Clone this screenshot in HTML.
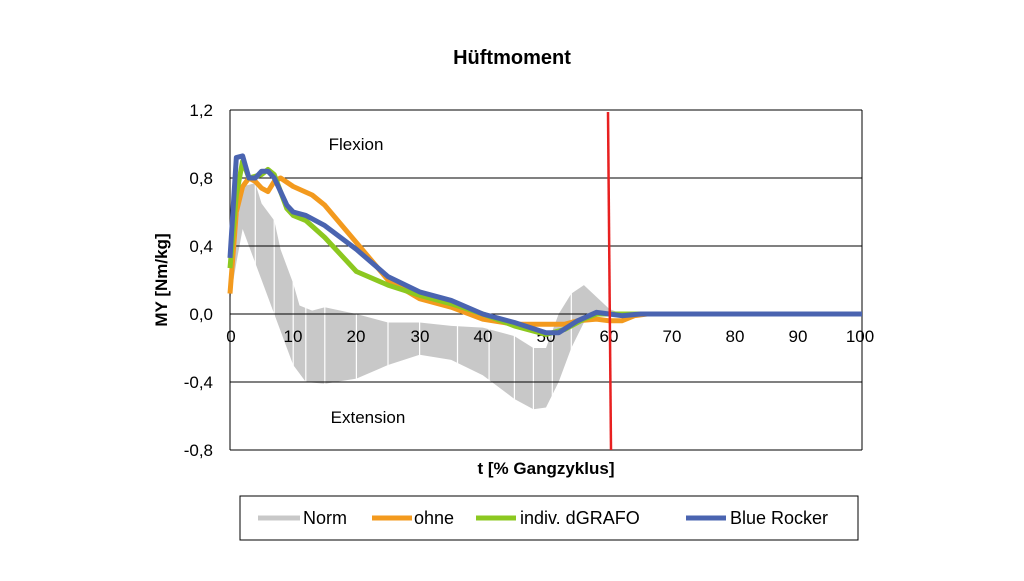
<!DOCTYPE html>
<html><head><meta charset="utf-8"><style>
body{margin:0;background:#fff;}
svg text{font-family:"Liberation Sans",Arial,sans-serif;fill:#000;}
</style></head><body>
<svg width="1024" height="576" viewBox="0 0 1024 576" xmlns="http://www.w3.org/2000/svg">
<rect width="1024" height="576" fill="#fff"/>
<text x="512" y="64" font-size="20" font-weight="bold" text-anchor="middle">Hüftmoment</text>
<g transform="translate(230,314) scale(6.32,-170)">
<polygon fill="#c8c8c8" points="0,0.1 1,0.5 2,0.75 4,0.77 5,0.65 7,0.55 8,0.38 10,0.18 11,0.05 13,0.02 15,0.04 20,0 25,-0.05 30,-0.05 35,-0.07 40,-0.08 45,-0.13 48,-0.2 50,-0.2 52,0 54,0.12 56,0.17 58,0.1 60,0.03 62,0 62,0 60,0 58,0 56,-0.05 54,-0.2 52,-0.4 50,-0.55 48,-0.56 45,-0.5 40,-0.36 35,-0.27 30,-0.24 25,-0.3 20,-0.38 15,-0.41 12,-0.4 10,-0.3 8,-0.1 6,0.1 4,0.3 2,0.5 1,0.3 0,0.08"/>
</g>
<g stroke="#fff" stroke-width="1.2">
<line x1="255.3" y1="150" x2="255.3" y2="420"/><line x1="274.2" y1="150" x2="274.2" y2="420"/>
<line x1="293.2" y1="150" x2="293.2" y2="420"/><line x1="305.8" y1="150" x2="305.8" y2="420"/>
<line x1="324.8" y1="150" x2="324.8" y2="420"/><line x1="356.4" y1="150" x2="356.4" y2="420"/>
<line x1="388" y1="150" x2="388" y2="420"/><line x1="419.6" y1="150" x2="419.6" y2="420"/>
<line x1="457.5" y1="150" x2="457.5" y2="420"/><line x1="489.1" y1="150" x2="489.1" y2="420"/>
<line x1="514.4" y1="150" x2="514.4" y2="420"/><line x1="533.4" y1="150" x2="533.4" y2="420"/>
<line x1="552.3" y1="150" x2="552.3" y2="420"/><line x1="571.3" y1="150" x2="571.3" y2="420"/>
</g>
<g stroke="#000" stroke-width="1">
<line x1="230" y1="110" x2="862" y2="110"/>
<line x1="230" y1="178" x2="862" y2="178"/>
<line x1="230" y1="246" x2="862" y2="246"/>
<line x1="230" y1="314" x2="862" y2="314"/>
<line x1="230" y1="382" x2="862" y2="382"/>
<line x1="230" y1="450" x2="862" y2="450"/>
<line x1="230" y1="110" x2="230" y2="450"/>
<line x1="862" y1="110" x2="862" y2="450"/>
</g>
<g font-size="17" text-anchor="end">
<text x="213" y="116">1,2</text><text x="213" y="184">0,8</text><text x="213" y="252">0,4</text>
<text x="213" y="320">0,0</text><text x="213" y="388">-0,4</text><text x="213" y="456">-0,8</text>
</g>
<g font-size="17" text-anchor="middle">
<text x="231" y="342">0</text><text x="293" y="342">10</text><text x="356" y="342">20</text><text x="420" y="342">30</text><text x="483" y="342">40</text><text x="546" y="342">50</text><text x="609" y="342">60</text><text x="672" y="342">70</text><text x="735" y="342">80</text><text x="798" y="342">90</text><text x="860" y="342">100</text>
</g>
<text x="356" y="150" font-size="17" text-anchor="middle">Flexion</text>
<text x="368" y="423" font-size="17" text-anchor="middle">Extension</text>
<text x="546" y="474" font-size="17" font-weight="bold" text-anchor="middle">t [% Gangzyklus]</text>
<text transform="translate(167,280) rotate(-90)" font-size="17" font-weight="bold" text-anchor="middle">MY [Nm/kg]</text>
<g transform="translate(230,314) scale(6.32,-170)">
<polyline vector-effect="non-scaling-stroke" stroke="#f39a1e" stroke-width="5" stroke-linejoin="round" fill="none" points="0,0.12 1,0.6 2,0.75 3,0.8 4,0.78 5,0.74 6,0.72 7,0.78 8,0.8 10,0.75 13,0.7 15,0.64 20,0.42 25,0.2 30,0.09 35,0.04 40,-0.03 45,-0.06 50,-0.06 53,-0.06 55,-0.04 58,-0.03 60,-0.04 62,-0.04 64,-0.01 66,0 100,0"/>
<polyline vector-effect="non-scaling-stroke" stroke="#8cc820" stroke-width="5" stroke-linejoin="round" fill="none" points="0,0.27 1,0.7 2,0.9 3,0.8 5,0.82 6,0.85 7,0.82 8,0.72 9,0.62 10,0.58 12,0.55 15,0.45 20,0.25 25,0.17 30,0.11 35,0.06 40,0 45,-0.07 50,-0.12 53,-0.09 56,-0.03 58,0 60,0 62,0 100,0"/>
<polyline vector-effect="non-scaling-stroke" stroke="#4a64b0" stroke-width="5" stroke-linejoin="round" fill="none" points="0,0.33 1,0.92 2,0.93 3,0.8 4,0.8 5,0.84 6,0.84 7,0.8 8,0.72 9,0.64 10,0.6 12,0.58 15,0.52 20,0.38 25,0.22 30,0.13 35,0.08 40,0 45,-0.05 50,-0.11 52,-0.11 55,-0.04 58,0.01 60,0 62,-0.01 65,0 100,0"/>
</g>
<line x1="608" y1="112" x2="611" y2="450" stroke="#e82020" stroke-width="2.5"/>
<rect x="240" y="496" width="618" height="44" fill="#fff" stroke="#000" stroke-width="1"/>
<g stroke-width="5">
<line x1="258" y1="518" x2="300" y2="518" stroke="#c8c8c8"/>
<line x1="372" y1="518" x2="412" y2="518" stroke="#f39a1e"/>
<line x1="476" y1="518" x2="516" y2="518" stroke="#8cc820"/>
<line x1="686" y1="518" x2="726" y2="518" stroke="#4a64b0"/>
</g>
<g font-size="18">
<text x="303" y="524">Norm</text><text x="414" y="524">ohne</text><text x="520" y="524">indiv. dGRAFO</text><text x="730" y="524">Blue Rocker</text>
</g>
</svg>
</body></html>
